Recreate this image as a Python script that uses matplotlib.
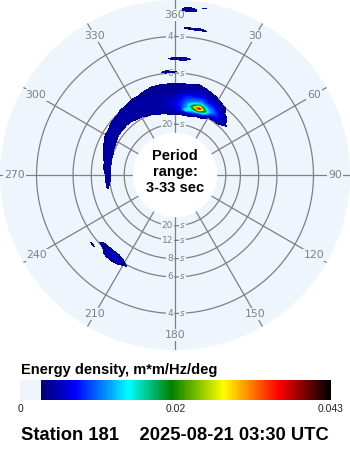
import numpy as np
import matplotlib
matplotlib.use("Agg")
import matplotlib.pyplot as plt
from matplotlib.colors import LinearSegmentedColormap, Normalize

# ---------------- data ----------------
station = "Station 181"
timestamp = "2025-08-21 03:30 UTC"
cbar_title = "Energy density, m*m/Hz/deg"
center_text = "Period\nrange:\n3-33 sec"
vmax = 0.043
cbar_ticks = [0.0, 0.02, 0.043]
cbar_ticklabels = ["0", "0.02", "0.043"]
period_min, period_max = 3, 33
ring_periods = [4, 6, 8, 12, 20]
spoke_dirs = [0, 30, 60, 90, 120, 150, 180, 210, 240, 270, 300, 330]
spoke_labels = ["360", "30", "60", "90", "120", "150", "180", "210", "240", "270", "300", "330"]

# direction bins (deg) and frequency bins (Hz) of the spectrum grid
dir_step = 5
freq_first, freq_step, freq_last = 0.030, 0.005, 0.330

# energy density in units of 1e-3 m*m/Hz/deg:
# direction -> list of (first frequency, values along increasing frequency)
spectrum = {
    210: [(0.165, [0.5, 0.9])],
    215: [(0.160, [1.5, 3.0, 3.0, 1.2])],
    220: [(0.160, [1.5, 3.0, 2.5, 1.0])],
    225: [(0.160, [0.9, 1.2])],
    230: [(0.180, [0.7])],
    260: [(0.090, [0.8])],
    265: [(0.085, [1.2, 1.2])],
    270: [(0.085, [1.3, 1.3])],
    275: [(0.085, [1.0, 1.5, 1.0])],
    280: [(0.085, [1.2, 1.8, 1.5])],
    285: [(0.085, [0.8, 1.8, 2.0, 1.2])],
    290: [(0.085, [0.8, 1.8, 2.0, 2.0, 1.2])],
    295: [(0.090, [1.5, 2.0, 2.0, 2.0, 1.0])],
    300: [(0.090, [1.0, 2.0, 2.0, 2.0, 2.0, 1.0])],
    305: [(0.095, [1.5, 2.0, 2.0, 2.0, 1.5])],
    310: [(0.095, [1.2, 2.0, 2.0, 2.0, 2.0, 1.2])],
    315: [(0.095, [1.2, 2.0, 2.0, 2.0, 2.0, 1.5])],
    320: [(0.095, [1.0, 2.0, 2.0, 2.0, 2.0, 2.0, 1.0])],
    325: [(0.090, [1.0, 2.0, 2.0, 2.0, 2.0, 2.0, 2.0, 1.0])],
    330: [(0.090, [1.5, 2.0, 2.0, 2.0, 2.0, 2.0, 2.0, 2.0, 1.0])],
    335: [(0.085, [1.0, 2.0, 2.0, 2.0, 2.0, 2.0, 2.0, 2.0, 2.0, 1.0])],
    340: [(0.085, [1.5, 2.0, 2.0, 2.0, 2.0, 2.0, 2.0, 2.0, 0.3, 1.5, 1.2])],
    345: [(0.080, [1.0, 2.0, 2.0, 2.0, 2.0, 2.0, 2.0, 2.0, 2.0, 0.3, 1.5, 1.5, 0.8])],
    350: [(0.080, [1.5, 2.0, 2.0, 2.0, 2.0, 2.0, 2.0, 2.0, 2.0, 0.3, 1.5, 1.5, 1.0])],
    355: [(0.075, [1.0, 2.0, 2.0, 2.5, 2.8, 2.8, 2.5, 2.2, 2.0, 2.0, 0.3, 1.5, 1.5, 1.0]),
          (0.170, [1.0])],
    0: [(0.075, [1.2, 2.0, 3.0, 3.5, 4.0, 3.5, 3.0, 2.5, 2.2, 2.0, 0.3, 1.5, 1.5, 1.2]),
        (0.170, [0.6]), (0.200, [1.5])],
    5: [(0.075, [1.0, 3.0, 5.0, 6.0, 6.0, 6.0, 5.5, 5.0, 4.5, 3.0, 0.8, 1.8, 1.8, 1.5]),
        (0.200, [1.2]), (0.270, [0.7]), (0.310, [1.0, 1.0])],
    10: [(0.075, [1.5, 5.0, 15.0, 10.0, 10.0, 9.0, 8.0, 7.0, 6.0, 4.0, 2.5, 2.0, 2.0, 1.5]),
         (0.270, [0.9]), (0.320, [0.6])],
    15: [(0.075, [1.5, 6.0, 10.0, 16.0, 22.0, 15.0, 10.0, 8.0, 6.0, 4.0, 3.0, 2.5, 2.0, 1.8, 1.0])],
    20: [(0.080, [3.0, 9.0, 22.0, 37.0, 25.0, 13.0, 9.0, 7.0, 5.0, 3.5, 2.5, 2.0, 1.2])],
    25: [(0.080, [2.0, 6.0, 14.0, 18.0, 13.0, 9.0, 7.0, 5.0, 3.5, 2.5, 2.0, 1.5])],
    30: [(0.090, [3.0, 7.0, 9.0, 8.0, 6.0, 4.0, 3.0, 2.0, 1.0])],
    35: [(0.090, [2.5, 5.0, 6.0, 5.0, 3.5, 2.5, 1.5, 0.8])],
    40: [(0.090, [1.5, 3.0, 3.0, 2.0, 0.8])],
    45: [(0.095, [0.8])],
}

# ---------------- styling ----------------
BG = "#eef5fd"
GRID = "#808080"
W, H = 350, 450

cmap = LinearSegmentedColormap.from_list(
    "cdip",
    [(0.0, (0.0, 0.0, 0.45)),
     (0.117, (0.0, 0.0, 1.0)),
     (0.30, (0.0, 1.0, 1.0)),
     (0.45, (0.0, 0.5, 0.0)),
     (0.63, (1.0, 1.0, 0.0)),
     (0.82, (1.0, 0.0, 0.0)),
     (1.0, (0.0, 0.0, 0.0))])
norm = Normalize(0, vmax)

# ---------------- grid assembly ----------------
directions = np.arange(0, 360 + dir_step, dir_step)
freqs = np.round(np.arange(freq_first, freq_last + freq_step / 2, freq_step), 3)
Z = np.zeros((len(freqs), len(directions)))
for d, segs in spectrum.items():
    c = d // dir_step
    for f0, vals in segs:
        r0 = int(round((f0 - freq_first) / freq_step))
        for i, v in enumerate(vals):
            Z[r0 + i, c] = v * 1e-3
Z[:, -1] = Z[:, 0]

fig = plt.figure(figsize=(W / 100, H / 100), dpi=100, facecolor="white")
ax = fig.add_axes([0, 100 / H, 1, 350 / H], projection="polar")
ax.set_theta_zero_location("N")
ax.set_theta_direction(-1)
fmin, fmax = 1 / period_max, 1 / period_min
ax.set_ylim(fmin, fmax)
ax.set_rorigin(-0.0659)
ax.set_facecolor(BG)
ax.grid(False)
ax.set_xticks([])
ax.set_yticks([])
for sp in ax.spines.values():
    sp.set_visible(False)
    sp.set_linewidth(0)
    sp.set_edgecolor("none")

# rings
th = np.linspace(0, 2 * np.pi, 361)
for p in ring_periods:
    ax.plot(th, np.full_like(th, 1 / p), color=GRID, lw=0.9, zorder=1)
# spokes
for d in spoke_dirs:
    t = np.deg2rad(d)
    ax.plot([t, t], [fmin, fmax], color=GRID, lw=0.9, zorder=1)
# spoke labels
r_lab = (161 - 29) / 440
for d, lab in zip(spoke_dirs, spoke_labels):
    ax.text(np.deg2rad(d), r_lab, lab, ha="center", va="center", fontsize=7.8,
            color=GRID, family="DejaVu Sans", zorder=2,
            bbox=dict(boxstyle="square,pad=0.1", fc=BG, ec="none"))
# ring labels on the 0 and 180 spokes
for p in ring_periods:
    for d in (0, 180):
        t = np.deg2rad(d)
        ax.annotate(str(p), xy=(t, 1 / p), xytext=(-2, 0), textcoords="offset pixels",
                    ha="right", va="center", fontsize=6.5, color=GRID, zorder=2,
                    bbox=dict(boxstyle="square,pad=0.1", fc=BG, ec="none"))
        ax.annotate("s", xy=(t, 1 / p), xytext=(5, 0), textcoords="offset pixels",
                    ha="left", va="center", fontsize=6.5, color=GRID, zorder=2,
                    style="italic",
                    bbox=dict(boxstyle="square,pad=0.1", fc=BG, ec="none"))

# spectrum
levels = np.arange(0.0005, vmax + 0.0005, 0.0005)
ax.contourf(np.deg2rad(directions), freqs, Z, levels=levels, cmap=cmap, norm=norm,
            zorder=4, antialiased=False)

ax.text(0.5, 0.509, center_text, transform=ax.transAxes, ha="center", va="center",
        fontsize=10.5, fontweight="bold", family="Liberation Sans", color="black",
        zorder=6)

# colorbar
gap = vmax * 21 / 290
cax = fig.add_axes([20 / W, 50 / H, 311 / W, 20 / H])
cax.axvspan(-gap, 0, color=BG, lw=0)
grad = np.linspace(0, vmax, 400)[None, :]
cax.imshow(grad, extent=[0, vmax, 0, 1], aspect="auto", cmap=cmap, norm=norm,
           interpolation="nearest")
cax.set_xlim(-gap, vmax)
cax.set_ylim(0, 1)
cax.set_yticks([])
tick_pos = [(-gap if v == 0 else v) for v in cbar_ticks]
cax.set_xticks(tick_pos)
cax.set_xticklabels(cbar_ticklabels, fontsize=7.5, color="#222222", family="Liberation Sans")
cax.tick_params(axis="x", length=0, pad=3)
for sp in cax.spines.values():
    sp.set_visible(False)

fig.text(21 / W, 1 - 370 / H, cbar_title, ha="left", va="center", fontsize=10.5,
         fontweight="bold", family="Liberation Sans")
fig.text(21 / W, 1 - 436 / H, station + "    " + timestamp, ha="left", va="center",
         fontsize=13.2, fontweight="bold", family="Liberation Sans")

fig.savefig("out.png", dpi=100, facecolor="white")
